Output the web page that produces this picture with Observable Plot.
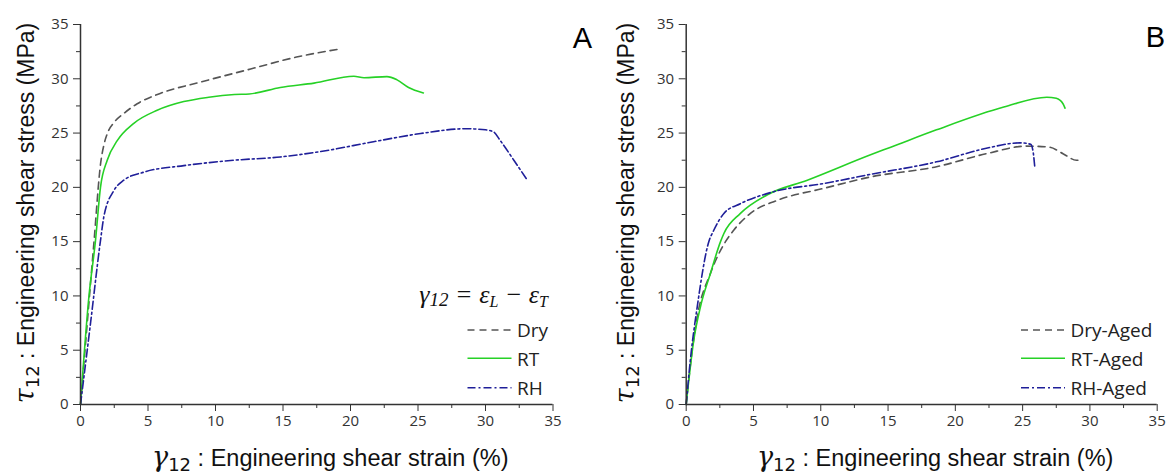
<!DOCTYPE html>
<html><head><meta charset="utf-8">
<script src="https://cdn.jsdelivr.net/npm/d3@7"></script>
<script src="https://cdn.jsdelivr.net/npm/@observablehq/plot@0.6"></script>
<style>
body{margin:0;background:#fff;}
#wrap{display:flex;width:1171px;height:474px;overflow:hidden;}
svg{overflow:visible;flex:none;}
</style></head><body><div id="wrap"></div>
<script>
// ---- Panel A data ----
const dryA_x = [0,0.5,1.0,1.5,1.75,2.0,2.5,3.2,4.2,5.9,8.9,12.6,16.0,19.0];
const dryA_y = [0,7.5,15,22.3,24,25,26,26.8,27.7,28.65,29.7,30.9,32.0,32.7];
const rtA_x = [0,0.62,1.11,1.48,1.98,2.72,3.95,5.68,7.65,9.5,11.4,12.5,14.8,17.3,20.25,21.0,22.7,23.45,24.3,25.4];
const rtA_y = [0,9.9,15.1,20,22.5,24.3,25.9,27.1,27.9,28.3,28.55,28.6,29.2,29.6,30.24,30.1,30.2,29.9,29.2,28.7];
const rhA_x = [0,0.74,1.48,1.73,2.47,3.21,4.69,7.65,11.4,14.8,17.8,21.7,25.2,28.5,30.0,30.6,31.1,32.1,33.1];
const rhA_y = [0,7.46,15.1,17.3,19.7,20.66,21.4,22.0,22.5,22.8,23.3,24.2,24.96,25.4,25.3,25.1,24.3,22.5,20.66];
// ---- Panel B data ----
const dryB_x = [0,0.3,0.82,1.8,2.92,3.53,4.77,6.76,10.2,13.7,18.6,22.3,25.3,27.0,28.0,29.0,29.3];
const dryB_y = [0,3.5,8.07,12.07,15.0,16.05,17.6,18.8,19.9,20.96,21.9,23.1,23.8,23.7,23.1,22.5,22.5];
const rtB_x = [0,0.56,1.06,1.8,2.55,2.8,4.03,6.0,9.0,13.7,15.2,18.6,23.6,26.8,27.5,28.0,28.15];
const rtB_y = [0,5.9,9.0,12.07,15.0,15.75,17.6,19.3,20.66,23.0,23.7,25.3,27.4,28.3,28.2,27.7,27.3];
const rhB_x = [0,0.3,0.82,1.68,2.05,2.8,4.03,6.5,10.2,13.7,18.6,22.3,24.8,25.6,25.8,25.9];
const rhB_y = [0,4,9.0,15.0,16.05,17.6,18.5,19.6,20.35,21.2,22.35,23.6,24.1,23.97,23.1,21.9];

const majorTicks = [0,5,10,15,20,25,30,35];
const minorTicks = [2.5,7.5,12.5,17.5,22.5,27.5,32.5];
const namesA = ["Dry","RT","RH"];
const namesB = ["Dry-Aged","RT-Aged","RH-Aged"];

const colors = ["#555555","#26d126","#1f1f99"];
const dashes = ["7,5", null, "8,3,2,3"];

const pts = (xs, ys) => xs.map((x, i) => ({x, y: ys[i]}));

function panel({series, names, width, mL, mR, letter, formula, labelX, legX}) {
  const marks = [];
  series.forEach((s, i) => {
    marks.push(Plot.line(s, {x: "x", y: "y", stroke: colors[i], strokeWidth: 1.6,
      strokeDasharray: dashes[i], curve: "monotone-x"}));
  });
  marks.push(
    Plot.axisX({ticks: majorTicks, tickSize: 7, tickPadding: 4, label: null, tickFormat: d => d}),
    Plot.axisX({ticks: minorTicks, tickSize: 4, text: null, label: null}),
    Plot.axisY({ticks: majorTicks, tickSize: 7, tickPadding: 5, label: null, tickFormat: d => d}),
    Plot.axisY({ticks: minorTicks, tickSize: 4, text: null, label: null}),
    Plot.ruleX([0], {stroke: "#333", strokeWidth: 1.5}),
    Plot.ruleY([0], {stroke: "#333", strokeWidth: 1.5})
  );
  const svg = Plot.plot({
    width, height: 474,
    marginLeft: mL, marginRight: mR, marginTop: 24, marginBottom: 70,
    x: {domain: [0, 35], label: null},
    y: {domain: [0, 35], label: null},
    style: {fontFamily: "'Open Sans', sans-serif", fontSize: "15px", color: "#333", background: "#fff"},
    marks
  });
  const s = d3.select(svg);

  // x axis title
  const cx = mL + (width - mL - mR) / 2 + 14;
  const xt = s.append("text").attr("x", cx).attr("y", 466).attr("text-anchor", "middle")
    .attr("fill", "#111").style("font-family", "'Liberation Sans', Arial, sans-serif").style("font-size", "23.5px");
  xt.append("tspan").text("γ").style("font-family", "'DejaVu Serif', serif").style("font-style", "italic").style("font-size", "27px");
  xt.append("tspan").text("12").attr("dy", 5).style("font-family", "'DejaVu Sans', sans-serif").style("font-size", "18px");
  xt.append("tspan").text(" : Engineering shear strain (%)").attr("dy", -5);

  // y axis title
  const yt = s.append("text").attr("transform", `translate(${labelX},213) rotate(-90)`).attr("text-anchor", "middle")
    .attr("fill", "#111").style("font-family", "'Liberation Sans', Arial, sans-serif").style("font-size", "23px");
  yt.append("tspan").text("τ").style("font-family", "'DejaVu Serif', serif").style("font-style", "italic").style("font-size", "27px");
  yt.append("tspan").text("12").attr("dy", 5).style("font-family", "'DejaVu Sans', sans-serif").style("font-size", "18px");
  yt.append("tspan").text(" : Engineering shear stress (MPa)").attr("dy", -5);

  // panel letter
  s.append("text").attr("x", width - (letter === "A" ? 8 : 6)).attr("y", letter === "A" ? 48 : 47)
    .attr("text-anchor", "end").attr("fill", "#000")
    .style("font-family", "'Liberation Sans', Arial, sans-serif").style("font-size", "29px").text(letter);

  // legend
  const lx0 = legX, lx1 = legX + 44, tx = legX + 49.5;
  const ly = [330, 358.3, 387.7], ty = [336.7, 366, 395];
  names.forEach((n, i) => {
    s.append("line").attr("x1", lx0).attr("x2", lx1).attr("y1", ly[i]).attr("y2", ly[i])
      .attr("stroke", colors[i]).attr("stroke-width", 1.6).attr("stroke-dasharray", dashes[i]);
    s.append("text").attr("x", tx).attr("y", ty[i]).attr("fill", "#222").attr("text-anchor", "start")
      .style("font-family", "'Open Sans', sans-serif").style("font-size", "19px").text(n);
  });

  if (formula) {
    const f = s.append("text").attr("x", 548).attr("y", 303).attr("text-anchor", "end").attr("fill", "#111")
      .style("font-family", "'Liberation Serif', 'Times New Roman', serif").style("font-style", "italic").style("font-size", "26px");
    f.append("tspan").text("γ");
    f.append("tspan").text("12").attr("dy", 3).style("font-size", "19px");
    f.append("tspan").text(" = ε").attr("dy", -3);
    f.append("tspan").text("L").attr("dy", 4).style("font-size", "16px");
    f.append("tspan").text(" − ε").attr("dy", -4);
    f.append("tspan").text("T").attr("dy", 4).style("font-size", "16px");
  }
  return svg;
}

const wrap = document.getElementById("wrap");
wrap.appendChild(panel({
  series: [pts(dryA_x, dryA_y), pts(rtA_x, rtA_y), pts(rhA_x, rhA_y)],
  names: namesA, width: 600, mL: 80, mR: 47.5, letter: "A", formula: true, labelX: 34, legX: 467.5
}));
wrap.appendChild(panel({
  series: [pts(dryB_x, dryB_y), pts(rtB_x, rtB_y), pts(rhB_x, rhB_y)],
  names: namesB, width: 571, mL: 85.7, mR: 14.3, letter: "B", formula: false, labelX: 34, legX: 421
}));
</script></body></html>
